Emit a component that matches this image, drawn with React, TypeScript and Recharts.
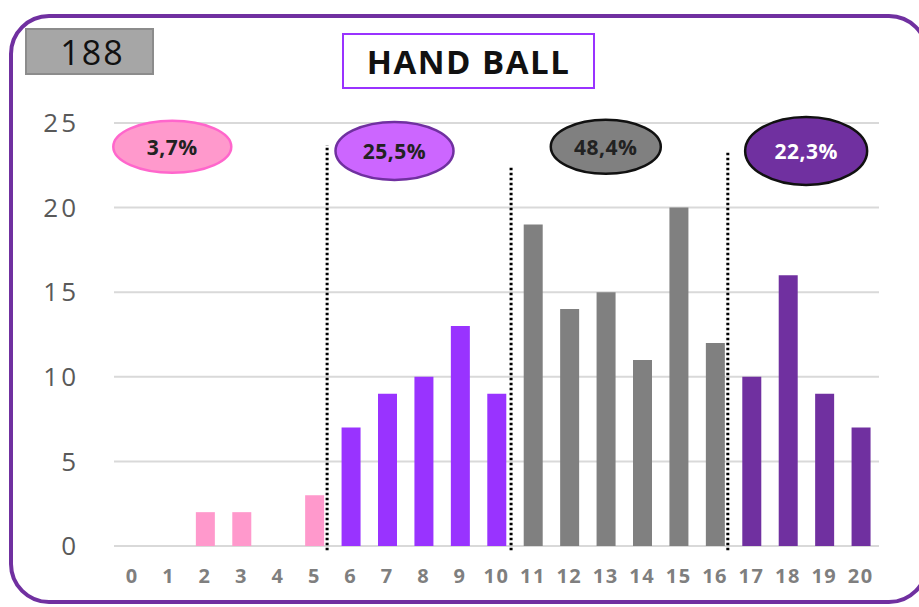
import { BarChart, Bar, Cell, XAxis, YAxis, CartesianGrid, ReferenceLine, ReferenceDot } from 'recharts'

// scores 0..20 and how many players got each one
const scores = [0, 1, 2, 3, 4, 5, 6, 7, 8, 9, 10, 11, 12, 13, 14, 15, 16, 17, 18, 19, 20]
const counts = [0, 0, 2, 2, 0, 3, 7, 9, 10, 13, 9, 19, 14, 15, 11, 20, 12, 10, 16, 9, 7]
// which band each score falls in (0 = lowest, 3 = highest)
const bands = [0, 0, 0, 0, 0, 0, 1, 1, 1, 1, 1, 2, 2, 2, 2, 2, 2, 3, 3, 3, 3]

const bandShares = ['3,7%', '25,5%', '48,4%', '22,3%']
const bandLabelX = [1.1, 7.2, 13.0, 18.5]
const bandLabelY = [23.6, 23.35, 23.6, 23.35]

// where the dotted separators go between bands
const splitX = [5.35, 10.4, 16.35]
const splitTop = [23.7, 22.35, 23.3]

const yTicks = [0, 5, 10, 15, 20, 25]
const total = '188'
const title = 'HAND BALL'

const barColors = ['#FF99CC', '#9933FF', '#808080', '#7030A0']
const bubbles = [
  { fill: '#FF99CC', stroke: '#FF66CC', text: '#222', rx: 59, ry: 26 },
  { fill: '#CC66FF', stroke: '#7030A0', text: '#222', rx: 59, ry: 29 },
  { fill: '#808080', stroke: '#111', text: '#222', rx: 55, ry: 27 },
  { fill: '#7030A0', stroke: '#111', text: '#fff', rx: 61, ry: 34 },
]

const font = '"Open Sans", "Liberation Sans", sans-serif'

export default function App() {
  const data = scores.map((s, i) => ({ score: s, count: counts[i], band: bands[i] }))

  return (
    <div style={{ position: 'relative', width: 919, height: 607, overflow: 'hidden', background: '#fff', fontFamily: font }}>
      <style>{'body{margin:0}'}</style>
      <div
        style={{
          position: 'absolute', left: 9, top: 14, width: 920, height: 590,
          border: '4px solid #7030A0', borderRadius: 40, boxSizing: 'border-box',
        }}
      />
      <div
        style={{
          position: 'absolute', left: 25, top: 28, width: 129, height: 47,
          background: '#A6A6A6', border: '2px solid #8C8C8C', boxSizing: 'border-box',
          display: 'flex', alignItems: 'center', justifyContent: 'center',
          fontSize: 34, letterSpacing: 2, color: '#111', paddingLeft: 6,
        }}
      >
        {total}
      </div>
      <div
        style={{
          position: 'absolute', left: 342, top: 33, width: 253, height: 56,
          border: '2px solid #9933FF', boxSizing: 'border-box',
          display: 'flex', alignItems: 'center', justifyContent: 'center',
          fontSize: 33, fontWeight: 700, letterSpacing: 1.5, color: '#111',
        }}
      >
        {title}
      </div>

      <BarChart
        width={919}
        height={607}
        data={data}
        margin={{ top: 123, right: 40, bottom: 21, left: 0 }}
        style={{ position: 'absolute', left: 0, top: 0 }}
      >
        <CartesianGrid vertical={false} stroke="#D9D9D9" strokeWidth={2} />
        <XAxis
          dataKey="score"
          type="number"
          domain={[-0.5, 20.5]}
          ticks={scores}
          interval={0}
          height={40}
          axisLine={false}
          tickLine={false}
          tickSize={0}
          tickMargin={23}
          tick={{ fill: '#7F7F7F', fontSize: 20, fontWeight: 700, fontFamily: font, letterSpacing: 1.5 }}
        />
        <YAxis
          domain={[0, 25]}
          ticks={yTicks}
          width={114}
          axisLine={false}
          tickLine={false}
          tickSize={0}
          tickMargin={35}
          tick={{ fill: '#595959', fontSize: 26, fontFamily: font, letterSpacing: 3 }}
        />
        <Bar dataKey="count" barSize={19} isAnimationActive={false}>
          {data.map((d) => (
            <Cell key={d.score} fill={barColors[d.band]} />
          ))}
        </Bar>
        {splitX.map((x, i) => (
          <ReferenceLine
            key={'s' + i}
            segment={[{ x, y: -0.25 }, { x, y: splitTop[i] }]}
            stroke="#000"
            strokeWidth={3}
            strokeDasharray="2.5 2.5"
            ifOverflow="visible"
          />
        ))}
        {bandShares.map((txt, i) => (
          <ReferenceDot
            key={'b' + i}
            x={bandLabelX[i]}
            y={bandLabelY[i]}
            ifOverflow="visible"
            shape={(p: any) => (
              <g>
                <ellipse
                  cx={p.cx}
                  cy={p.cy}
                  rx={bubbles[i].rx}
                  ry={bubbles[i].ry}
                  fill={bubbles[i].fill}
                  stroke={bubbles[i].stroke}
                  strokeWidth={2.5}
                />
                <text
                  x={p.cx}
                  y={p.cy}
                  textAnchor="middle"
                  dominantBaseline="central"
                  fontSize={21}
                  fontWeight={700}
                  fontFamily={font}
                  letterSpacing={0.5}
                  fill={bubbles[i].text}
                >
                  {txt}
                </text>
              </g>
            )}
          />
        ))}
      </BarChart>
    </div>
  )
}
